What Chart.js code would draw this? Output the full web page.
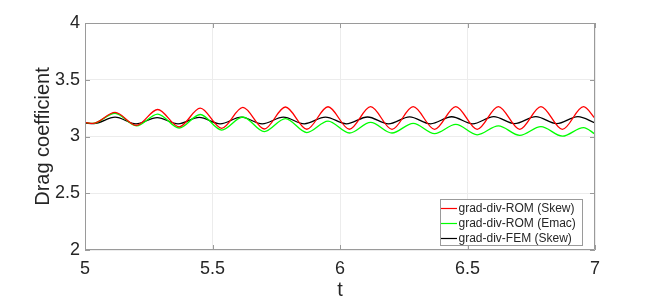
<!DOCTYPE html>
<html lang="en">
<head>
  <meta charset="UTF-8">
  <title>Drag coefficient</title>
  <script src="https://cdn.jsdelivr.net/npm/chart.js"></script>
  <style>
    body {
      margin: 0;
      background: #fff;
    }
    #wrap {
      width: 658px;
      height: 302px;
    }
  </style>
</head>
<body>
  <div id="wrap"><canvas id="drag"></canvas></div>

  <script>
    // values (peaks and troughs of each signal)
    const romSkewT = [5.000, 5.030, 5.118, 5.202, 5.285, 5.369, 5.452, 5.536, 5.619, 5.703, 5.786, 5.870, 5.953,
                      6.037, 6.120, 6.204, 6.287, 6.371, 6.454, 6.538, 6.621, 6.705, 6.788, 6.872, 6.955, 7.000];
    const romSkewCd = [3.125, 3.115, 3.212, 3.098, 3.238, 3.085, 3.250, 3.072, 3.256, 3.066, 3.260, 3.064, 3.262,
                       3.064, 3.263, 3.063, 3.263, 3.063, 3.264, 3.063, 3.264, 3.063, 3.264, 3.063, 3.263, 3.160];

    const romEmacT = romSkewT;
    const romEmacCd = [3.125, 3.115, 3.205, 3.093, 3.198, 3.075, 3.194, 3.057, 3.172, 3.043, 3.158, 3.035, 3.135,
                       3.031, 3.125, 3.031, 3.116, 3.026, 3.107, 3.015, 3.094, 3.010, 3.087, 3.003, 3.079, 3.022];

    const femSkewT = [5.000, 5.035, 5.118, 5.200, 5.283, 5.365, 5.448, 5.530, 5.613, 5.695, 5.778, 5.860, 5.943,
                      6.025, 6.108, 6.190, 6.273, 6.355, 6.438, 6.520, 6.603, 6.685, 6.768, 6.850, 6.933, 7.000];
    const femSkewCd = [3.118, 3.114, 3.170, 3.112, 3.166, 3.112, 3.168, 3.112, 3.170, 3.112, 3.170, 3.112, 3.171,
                       3.112, 3.172, 3.112, 3.173, 3.112, 3.174, 3.112, 3.175, 3.113, 3.175, 3.113, 3.175, 3.120];

    const seriesNames = ['grad-div-ROM (Skew)', 'grad-div-ROM (Emac)', 'grad-div-FEM (Skew)'];
    const seriesColors = ['#ff0000', '#00ff00', '#000000'];

    const xTicks = [5, 5.5, 6, 6.5, 7];
    const yTicks = [2, 2.5, 3, 3.5, 4];

    function points(ts, vs) {
      return ts.map((t, i) => ({ x: t, y: vs[i] }));
    }

    const axisGray = '#9a9a9a';
    const textColor = '#262626';
    const fontFamily = '"Liberation Sans", Arial, sans-serif';

    // box, inward ticks and the legend inside the axes
    const matlabBox = {
      id: 'matlabBox',
      afterDatasetsDraw(chart) {
        const { ctx, chartArea: a, scales } = chart;
        ctx.save();
        ctx.strokeStyle = axisGray;
        ctx.lineWidth = 1;
        ctx.beginPath();
        ctx.rect(a.left + 0.5, a.top + 0.5, a.right - a.left - 1, a.bottom - a.top - 1);
        ctx.stroke();

        ctx.beginPath();
        xTicks.forEach(v => {
          const px = Math.round(scales.x.getPixelForValue(v)) + 0.5;
          ctx.moveTo(px, a.bottom); ctx.lineTo(px, a.bottom - 5);
          ctx.moveTo(px, a.top); ctx.lineTo(px, a.top + 5);
        });
        yTicks.forEach(v => {
          const py = Math.round(scales.y.getPixelForValue(v)) + 0.5;
          ctx.moveTo(a.left, py); ctx.lineTo(a.left + 5, py);
          ctx.moveTo(a.right, py); ctx.lineTo(a.right - 5, py);
        });
        ctx.stroke();

        // legend
        const lx = 440, ly = 199, lw = 142, lh = 46;
        ctx.fillStyle = '#fff';
        ctx.fillRect(lx, ly, lw, lh);
        ctx.strokeStyle = axisGray;
        ctx.strokeRect(lx + 0.5, ly + 0.5, lw, lh);
        ctx.font = '12px ' + fontFamily;
        ctx.textBaseline = 'middle';
        ctx.textAlign = 'left';
        seriesNames.forEach((name, i) => {
          const y = ly + 9.5 + i * 15;
          ctx.strokeStyle = seriesColors[i];
          ctx.lineWidth = 1.2;
          ctx.beginPath();
          ctx.moveTo(lx + 1, y); ctx.lineTo(lx + 17, y);
          ctx.stroke();
          ctx.fillStyle = textColor;
          ctx.fillText(name, lx + 18.5, y);
        });
        ctx.restore();
      }
    };

    const datasets = [
      points(romSkewT, romSkewCd),
      points(romEmacT, romEmacCd),
      points(femSkewT, femSkewCd)
    ].map((data, i) => ({
      label: seriesNames[i],
      data: data,
      borderColor: seriesColors[i],
      borderWidth: 1.3,
      pointRadius: 0,
      fill: false,
      cubicInterpolationMode: 'monotone'
    }));

    new Chart(document.getElementById('drag'), {
      type: 'line',
      data: { datasets: datasets },
      plugins: [matlabBox],
      options: {
        responsive: true,
        maintainAspectRatio: false,
        animation: false,
        layout: { padding: { left: 0, top: 23, right: 63, bottom: 0 } },
        plugins: {
          legend: { display: false },
          tooltip: { enabled: false }
        },
        scales: {
          x: {
            type: 'linear',
            min: 5,
            max: 7,
            afterBuildTicks: s => { s.ticks = xTicks.map(v => ({ value: v })); },
            afterFit: s => { s.height = 52; },
            grid: { color: '#ececec', drawTicks: false },
            border: { display: false },
            ticks: {
              color: textColor,
              padding: 8,
              font: { family: fontFamily, size: 18 },
              maxRotation: 0,
              callback: v => String(v)
            },
            title: {
              display: true,
              text: 't',
              color: textColor,
              padding: { top: 0, bottom: 0 },
              font: { family: fontFamily, size: 20 }
            }
          },
          y: {
            min: 2,
            max: 4,
            afterBuildTicks: s => { s.ticks = yTicks.map(v => ({ value: v })); },
            afterFit: s => { s.width = 85; },
            grid: { color: '#ececec', drawTicks: false },
            border: { display: false },
            ticks: {
              color: textColor,
              padding: 5,
              font: { family: fontFamily, size: 18 },
              callback: v => String(v)
            },
            title: {
              display: true,
              text: 'Drag coefficient',
              color: textColor,
              padding: { top: 31, bottom: 0 },
              font: { family: fontFamily, size: 20 }
            }
          }
        }
      }
    });
  </script>
</body>
</html>
